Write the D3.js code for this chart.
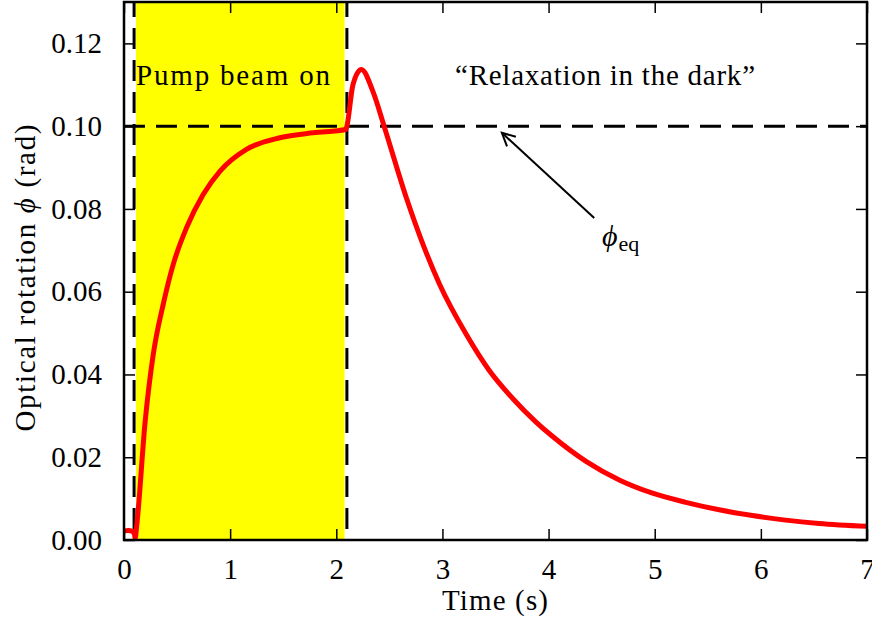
<!DOCTYPE html>
<html>
<head>
<meta charset="utf-8">
<script src="https://cdn.jsdelivr.net/npm/d3@7"></script>
<style>
  body { margin: 0; background: #fff; }
  text { font-family: "Liberation Serif", "Times New Roman", serif; fill: #000; }
</style>
</head>
<body>
<div class="container"></div>
<script>
const margin = { top: 2, bottom: 85, left: 124, right: 5 };
const width = 872 - margin.left - margin.right;
const height = 625 - margin.top - margin.bottom;

// time (s) and optical rotation (rad)
const time = [0, 0.04, 0.08, 0.1, 0.105, 0.12, 0.2, 0.276, 0.37, 0.464, 0.59, 0.746, 0.903, 1.154, 1.468, 1.78, 2.09,
  2.1, 2.157, 2.236, 2.345, 2.455, 2.66, 2.816, 2.973, 3.224, 3.443, 3.662, 3.882, 4.039, 4.353, 4.666, 4.98, 5.293,
  5.607, 5.92, 6.234, 6.548, 7.0];
const phi = [0.0022, 0.0023, 0.0021, 0.0012, 0.0004, 0.0035, 0.0288, 0.0449, 0.057, 0.0666, 0.0755, 0.0835, 0.0891, 0.0944, 0.0972, 0.0984, 0.0992,
  0.1000, 0.1100, 0.1137, 0.1084, 0.0996, 0.0827, 0.0715, 0.0618, 0.0497, 0.0409, 0.0342, 0.0285, 0.0250, 0.0190, 0.0145, 0.0113, 0.0091,
  0.0073, 0.0059, 0.0048, 0.0040, 0.0033];

const xTicks = [0, 1, 2, 3, 4, 5, 6, 7];
const yTicks = [0, 0.02, 0.04, 0.06, 0.08, 0.10, 0.12];

const pumpOn = [0.113, 2.078];     // yellow span
const pumpMarks = [0.095, 2.10];   // dashed verticals
const phiEq = 0.10;

const data = time.map((t, i) => ({ t: t, p: phi[i] }));

const svg = d3.select('.container')
    .append('svg')
    .attr('width', 872)
    .attr('height', 625);

const G = svg.append('g')
    .attr('transform', 'translate(' + margin.left + ',' + margin.top + ')');

const x = d3.scaleLinear().domain([0, 7]).range([0, width]);
const y = d3.scaleLinear().domain([0, 0.13]).range([height, 0]);

// pump beam span
G.append('rect')
    .attr('x', x(pumpOn[0]))
    .attr('y', 0)
    .attr('width', x(pumpOn[1]) - x(pumpOn[0]))
    .attr('height', height)
    .style('fill', '#ffff00');

// dashed guides
G.append('line')
    .attr('x1', 0).attr('x2', width)
    .attr('y1', y(phiEq)).attr('y2', y(phiEq))
    .style('stroke', 'black').style('stroke-width', 3)
    .style('stroke-dasharray', '21,11');

G.selectAll('.vmark')
    .data(pumpMarks)
    .join('line')
    .attr('class', 'vmark')
    .attr('x1', d => x(d)).attr('x2', d => x(d))
    .attr('y1', 0).attr('y2', height)
    .style('stroke', 'black').style('stroke-width', 3)
    .style('stroke-dasharray', '21,11')
    .style('stroke-dashoffset', 6);

// signal
const line = d3.line()
    .x(d => x(d.t))
    .y(d => y(d.p))
    .curve(d3.curveMonotoneX);

G.append('path')
    .datum(data)
    .attr('d', line)
    .style('fill', 'none')
    .style('stroke', '#ff0000')
    .style('stroke-width', 5)
    .style('stroke-linejoin', 'round');

// axes, ticks inside on all four sides
const tickLen = 11;
const fontSize = 29;

const xb = d3.axisBottom(x).tickValues(xTicks).tickSize(-tickLen).tickPadding(tickLen + 7).tickFormat(d3.format('d'));
const xt = d3.axisTop(x).tickValues(xTicks).tickSize(-tickLen).tickFormat('');
const yl = d3.axisLeft(y).tickValues(yTicks).tickSize(-tickLen).tickPadding(tickLen + 11).tickFormat(d3.format('.2f'));
const yr = d3.axisRight(y).tickValues(yTicks).tickSize(-tickLen).tickFormat('');

function style(g) {
    g.select('.domain').remove();
    g.selectAll('.tick line').style('stroke', 'black').style('stroke-width', 1.5);
    g.selectAll('.tick text').style('font-size', fontSize + 'px').style('font-family', '"Liberation Serif", serif').attr('fill', 'black');
}

G.append('g').attr('transform', 'translate(0,' + height + ')').call(xb).call(style);
G.append('g').call(xt).call(style);
G.append('g').call(yl).call(style);
G.append('g').attr('transform', 'translate(' + width + ',0)').call(yr).call(style);

G.append('rect')
    .attr('width', width).attr('height', height)
    .style('fill', 'none').style('stroke', 'black').style('stroke-width', 2.5);

// annotations
G.append('text')
    .attr('x', 136 - margin.left).attr('y', 85 - margin.top)
    .attr('textLength', 194).attr('lengthAdjust', 'spacing')
    .style('font-size', fontSize + 'px')
    .text('Pump beam on');

G.append('text')
    .attr('x', 455 - margin.left).attr('y', 85 - margin.top)
    .attr('textLength', 300).attr('lengthAdjust', 'spacing')
    .style('font-size', fontSize + 'px')
    .text('\u201CRelaxation in the dark\u201D');

// phi_eq arrow
svg.append('defs').append('marker')
    .attr('id', 'head')
    .attr('viewBox', '-14 -8 16 16')
    .attr('markerWidth', 16).attr('markerHeight', 16)
    .attr('markerUnits', 'userSpaceOnUse')
    .attr('refX', 0).attr('refY', 0)
    .attr('orient', 'auto')
    .append('path')
    .attr('d', 'M-13,-6.5 L0,0 L-13,6.5')
    .style('fill', 'none').style('stroke', 'black').style('stroke-width', 2);

G.append('line')
    .attr('x1', x(4.43)).attr('y1', y(0.0778))
    .attr('x2', x(3.56)).attr('y2', y(0.0984))
    .style('stroke', 'black').style('stroke-width', 2)
    .attr('marker-end', 'url(#head)');

const eq = G.append('text')
    .attr('x', 602 - margin.left).attr('y', 246 - margin.top)
    .style('font-size', '30px');
eq.append('tspan').style('font-style', 'italic').text('\u03D5');
eq.append('tspan').attr('dy', 5).attr('dx', 1).style('font-size', '22px').text('eq');

// axis labels
svg.append('text')
    .attr('x', 495).attr('y', 610)
    .attr('text-anchor', 'middle')
    .attr('textLength', 106).attr('lengthAdjust', 'spacing')
    .style('font-size', fontSize + 'px')
    .text('Time (s)');

const yl2 = svg.append('text')
    .attr('transform', 'translate(35,278) rotate(-90)')
    .attr('text-anchor', 'middle')
    .attr('textLength', 307).attr('lengthAdjust', 'spacing')
    .style('font-size', fontSize + 'px');
yl2.append('tspan').text('Optical rotation ');
yl2.append('tspan').style('font-style', 'italic').text('\u03D5');
yl2.append('tspan').text(' (rad)');
</script>
</body>
</html>
